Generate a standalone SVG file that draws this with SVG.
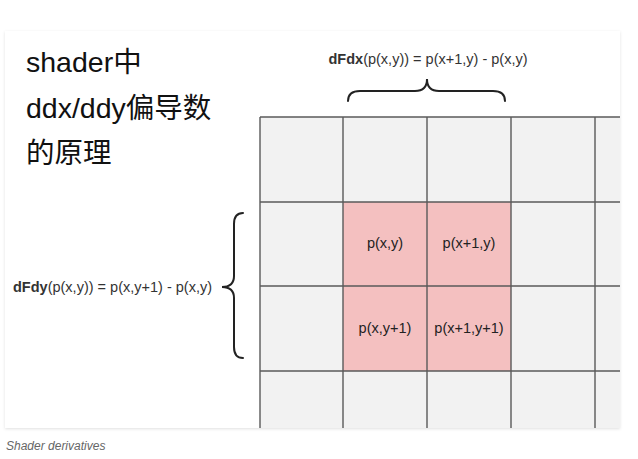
<svg xmlns="http://www.w3.org/2000/svg" width="638" height="459" viewBox="0 0 638 459">
  <defs>
    <filter id="shadow" x="-5%" y="-5%" width="110%" height="110%">
      <feDropShadow dx="0" dy="1" stdDeviation="1.5" flood-color="#000" flood-opacity="0.12"/>
    </filter>
    <clipPath id="cardClip">
      <rect x="5" y="31" width="615" height="397"/>
    </clipPath>
  </defs>
  <style>
    .title { font-family: "Liberation Sans", "Noto Sans CJK SC", sans-serif; font-size: 28.5px; fill: #111; }
    .formula { font-family: "Liberation Sans", Arial, sans-serif; font-size: 14.5px; fill: #333; }
    .formula .b { font-weight: bold; }
    .cell { fill: #f2f2f2; }
    .hot { fill: #f4c0c0; }
    .label { font-family: "Liberation Sans", Arial, sans-serif; font-size: 14.5px; fill: #222; text-anchor: middle; }
    .grid { stroke: #5a5a5a; stroke-width: 1.4; fill: none; }
    .brace { stroke: #222; stroke-width: 2; fill: none; stroke-linecap: round; }
    .caption { font-family: "Liberation Sans", Arial, sans-serif; font-size: 12px; font-style: italic; fill: #666; }
  </style>
  <rect width="638" height="459" fill="#ffffff"/>
  <rect x="5" y="31" width="615" height="397" fill="#ffffff" filter="url(#shadow)"/>

  <g id="title">
    <text class="title" x="26" y="72">shader中</text>
    <text class="title" x="26" y="118">ddx/ddy偏导数</text>
    <text class="title" x="26" y="163">的原理</text>
  </g>

  <g id="grid" clip-path="url(#cardClip)">
    <rect class="cell" x="260" y="117" width="360" height="311"/>
    <rect class="hot" x="343" y="202" width="168" height="169"/>
    <g class="grid">
      <line x1="260" y1="117" x2="260" y2="428"/>
      <line x1="343" y1="117" x2="343" y2="428"/>
      <line x1="427" y1="117" x2="427" y2="428"/>
      <line x1="511" y1="117" x2="511" y2="428"/>
      <line x1="595" y1="117" x2="595" y2="428"/>
      <line x1="260" y1="117" x2="620" y2="117"/>
      <line x1="260" y1="202" x2="620" y2="202"/>
      <line x1="260" y1="286" x2="620" y2="286"/>
      <line x1="260" y1="371" x2="620" y2="371"/>
    </g>
  </g>

  <g id="cell-xy"><text class="label" x="385" y="248">p(x,y)</text></g>
  <g id="cell-x1y"><text class="label" x="469" y="248">p(x+1,y)</text></g>
  <g id="cell-xy1"><text class="label" x="385" y="333">p(x,y+1)</text></g>
  <g id="cell-x1y1"><text class="label" x="469" y="333">p(x+1,y+1)</text></g>

  <g id="dfdx">
    <text class="formula" x="428" y="64" text-anchor="middle"><tspan class="b">dFdx</tspan>(p(x,y)) = p(x+1,y) - p(x,y)</text>
  </g>
  <g id="dfdy">
    <text class="formula" x="212" y="292" text-anchor="end"><tspan class="b">dFdy</tspan>(p(x,y)) = p(x,y+1) - p(x,y)</text>
  </g>

  <g id="connectors">
    <path class="brace" d="M348,101 C348,94 352,91 360,91 L415,91 C422,91 427,88 427,79 C427,88 432,91 439,91 L493,91 C501,91 505,94 505,101"/>
    <path class="brace" d="M243,213 C237,213 234,216 234,224 L234,276 C234,283 230,287 222,287 C230,287 234,291 234,298 L234,347 C234,355 237,358 243,358"/>
  </g>

  <g id="caption">
    <text class="caption" x="6" y="450">Shader derivatives</text>
  </g>
</svg>
